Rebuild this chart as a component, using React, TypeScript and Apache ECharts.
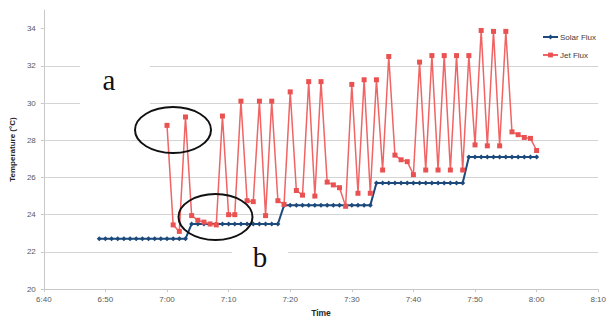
import React, { useEffect, useRef } from "react";
import * as echarts from "echarts";

// Time stamps (one reading per minute)
const times = [
  "6:49", "6:50", "6:51", "6:52", "6:53", "6:54", "6:55", "6:56", "6:57", "6:58", "6:59",
  "7:00", "7:01", "7:02", "7:03", "7:04", "7:05", "7:06", "7:07", "7:08", "7:09",
  "7:10", "7:11", "7:12", "7:13", "7:14", "7:15", "7:16", "7:17", "7:18", "7:19",
  "7:20", "7:21", "7:22", "7:23", "7:24", "7:25", "7:26", "7:27", "7:28", "7:29",
  "7:30", "7:31", "7:32", "7:33", "7:34", "7:35", "7:36", "7:37", "7:38", "7:39",
  "7:40", "7:41", "7:42", "7:43", "7:44", "7:45", "7:46", "7:47", "7:48", "7:49",
  "7:50", "7:51", "7:52", "7:53", "7:54", "7:55", "7:56", "7:57", "7:58", "7:59",
  "8:00",
];

const solarFlux = [
  22.7, 22.7, 22.7, 22.7, 22.7, 22.7, 22.7, 22.7, 22.7, 22.7, 22.7,
  22.7, 22.7, 22.7, 22.7, 23.5, 23.5, 23.5, 23.5, 23.5, 23.5,
  23.5, 23.5, 23.5, 23.5, 23.5, 23.5, 23.5, 23.5, 23.5, 24.5,
  24.5, 24.5, 24.5, 24.5, 24.5, 24.5, 24.5, 24.5, 24.5, 24.5,
  24.5, 24.5, 24.5, 24.5, 25.7, 25.7, 25.7, 25.7, 25.7, 25.7,
  25.7, 25.7, 25.7, 25.7, 25.7, 25.7, 25.7, 25.7, 25.7, 27.1,
  27.1, 27.1, 27.1, 27.1, 27.1, 27.1, 27.1, 27.1, 27.1, 27.1,
  27.1,
];

const jetFlux = [
  null, null, null, null, null, null, null, null, null, null, null,
  28.8, 23.45, 23.1, 29.25, 23.95, 23.7, 23.6, 23.5, 23.45, 29.3,
  24.0, 24.0, 30.1, 24.75, 24.7, 30.1, 23.95, 30.1, 24.75, 24.55,
  30.6, 25.3, 25.05, 31.15, 25.0, 31.15, 25.75, 25.6, 25.45, 24.45,
  31.0, 25.15, 31.25, 25.15, 31.25, 26.4, 32.5, 27.2, 26.95, 26.85,
  26.15, 32.2, 26.4, 32.55, 26.4, 32.55, 26.4, 32.55, 26.4, 32.55,
  27.75, 33.9, 27.7, 33.85, 27.7, 33.85, 28.45, 28.3, 28.15, 28.1,
  27.45,
];

const seriesNames = ["Solar Flux", "Jet Flux"];
const yTicks = [20, 22, 24, 26, 28, 30, 32, 34];

const ORIGIN = 6 * 60 + 40; // 6:40
const toMin = (t: string) => {
  const [h, m] = t.split(":").map(Number);
  return h * 60 + m - ORIGIN;
};
const fmt = (v: number) => {
  const tot = ORIGIN + Math.round(v);
  const h = Math.floor(tot / 60);
  const m = tot % 60;
  return `${h}:${m < 10 ? "0" + m : m}`;
};

const FONT = "Liberation Sans";

export default function App() {
  const ref = useRef<HTMLDivElement>(null);
  useEffect(() => {
    if (!ref.current) return;
    const chart = echarts.init(ref.current, undefined, { renderer: "svg" });
    const solarData = times.map((t, i) => [toMin(t), solarFlux[i]]);
    const jetData = times
      .map((t, i) => [toMin(t), jetFlux[i]])
      .filter((d) => d[1] !== null);
    chart.setOption({
      animation: false,
      backgroundColor: "#ffffff",
      grid: { left: 43, right: 9, top: 10, bottom: 28, containLabel: false },
      legend: {
        data: seriesNames,
        orient: "vertical",
        left: 542,
        top: 33,
        padding: 0,
        itemWidth: 15,
        itemHeight: 6,
        itemGap: 10,
        textStyle: { fontFamily: FONT, fontSize: 8, color: "#404040", padding: [0, 0, 0, -3] },
      },
      xAxis: {
        type: "value",
        min: 0,
        max: 90,
        interval: 10,
        name: "Time",
        nameLocation: "middle",
        nameGap: 17,
        nameTextStyle: { fontFamily: FONT, fontSize: 8.5, fontWeight: "bold", color: "#262626" },
        axisLine: { show: true, lineStyle: { color: "#c8c8c8", width: 1 } },
        axisTick: { show: true, length: 3, lineStyle: { color: "#c8c8c8" } },
        axisLabel: {
          fontFamily: FONT,
          fontSize: 8,
          color: "#595959",
          margin: 6,
          formatter: (v: number) => fmt(v),
        },
        splitLine: { show: false },
      },
      yAxis: {
        type: "value",
        min: 20,
        max: 35,
        interval: 2,
        name: "Temperature (°C)",
        nameLocation: "middle",
        nameRotate: 90,
        nameGap: 20,
        nameTextStyle: { fontFamily: FONT, fontSize: 8, fontWeight: "bold", color: "#262626" },
        axisLine: { show: true, lineStyle: { color: "#c8c8c8", width: 1 } },
        axisTick: { show: true, length: 3, lineStyle: { color: "#c8c8c8" }, customValues: yTicks },
        axisLabel: {
          fontFamily: FONT,
          fontSize: 8,
          color: "#595959",
          margin: 8,
          customValues: yTicks,
          formatter: (v: number) => (yTicks.includes(v) ? String(v) : ""),
        },
        splitLine: { show: true, showMaxLine: false, lineStyle: { color: "#d4d4d4", width: 1 } },
      },
      series: [
        {
          name: seriesNames[0],
          type: "line",
          data: solarData,
          symbol: "diamond",
          symbolSize: 5,
          lineStyle: { color: "#1c4a7c", width: 2 },
          itemStyle: { color: "#1c4a7c" },
          z: 2,
        },
        {
          name: seriesNames[1],
          type: "line",
          data: jetData,
          symbol: "rect",
          symbolSize: 5,
          lineStyle: { color: "#f06464", width: 1.5 },
          itemStyle: { color: "#ea5252" },
          z: 3,
        },
      ],
      graphic: [
        { type: "rect", z: 50, shape: { x: 80, y: 58, width: 70, height: 54 }, style: { fill: "#ffffff" } },
        {
          type: "text",
          z: 51,
          x: 109,
          y: 80,
          style: {
            text: "a",
            font: '29px "Liberation Serif"',
            fill: "#111111",
            align: "center",
            verticalAlign: "middle",
            textAlign: "center",
            textVerticalAlign: "middle",
          },
        },
        { type: "rect", z: 50, shape: { x: 232, y: 244, width: 56, height: 26 }, style: { fill: "#ffffff" } },
        {
          type: "text",
          z: 51,
          x: 260,
          y: 257,
          style: {
            text: "b",
            font: '29px "Liberation Serif"',
            fill: "#111111",
            align: "center",
            verticalAlign: "middle",
            textAlign: "center",
            textVerticalAlign: "middle",
          },
        },
        {
          type: "ellipse",
          z: 60,
          shape: { cx: 173, cy: 130, rx: 38, ry: 23 },
          style: { fill: "none", stroke: "#111111", lineWidth: 2 },
        },
        {
          type: "ellipse",
          z: 60,
          shape: { cx: 215.5, cy: 217, rx: 37, ry: 23 },
          style: { fill: "none", stroke: "#111111", lineWidth: 2 },
        },
      ],
    });
    return () => chart.dispose();
  }, []);
  return (
    <div
      ref={ref}
      style={{ position: "fixed", left: 0, top: 0, width: 609, height: 322, background: "#fff" }}
    />
  );
}
